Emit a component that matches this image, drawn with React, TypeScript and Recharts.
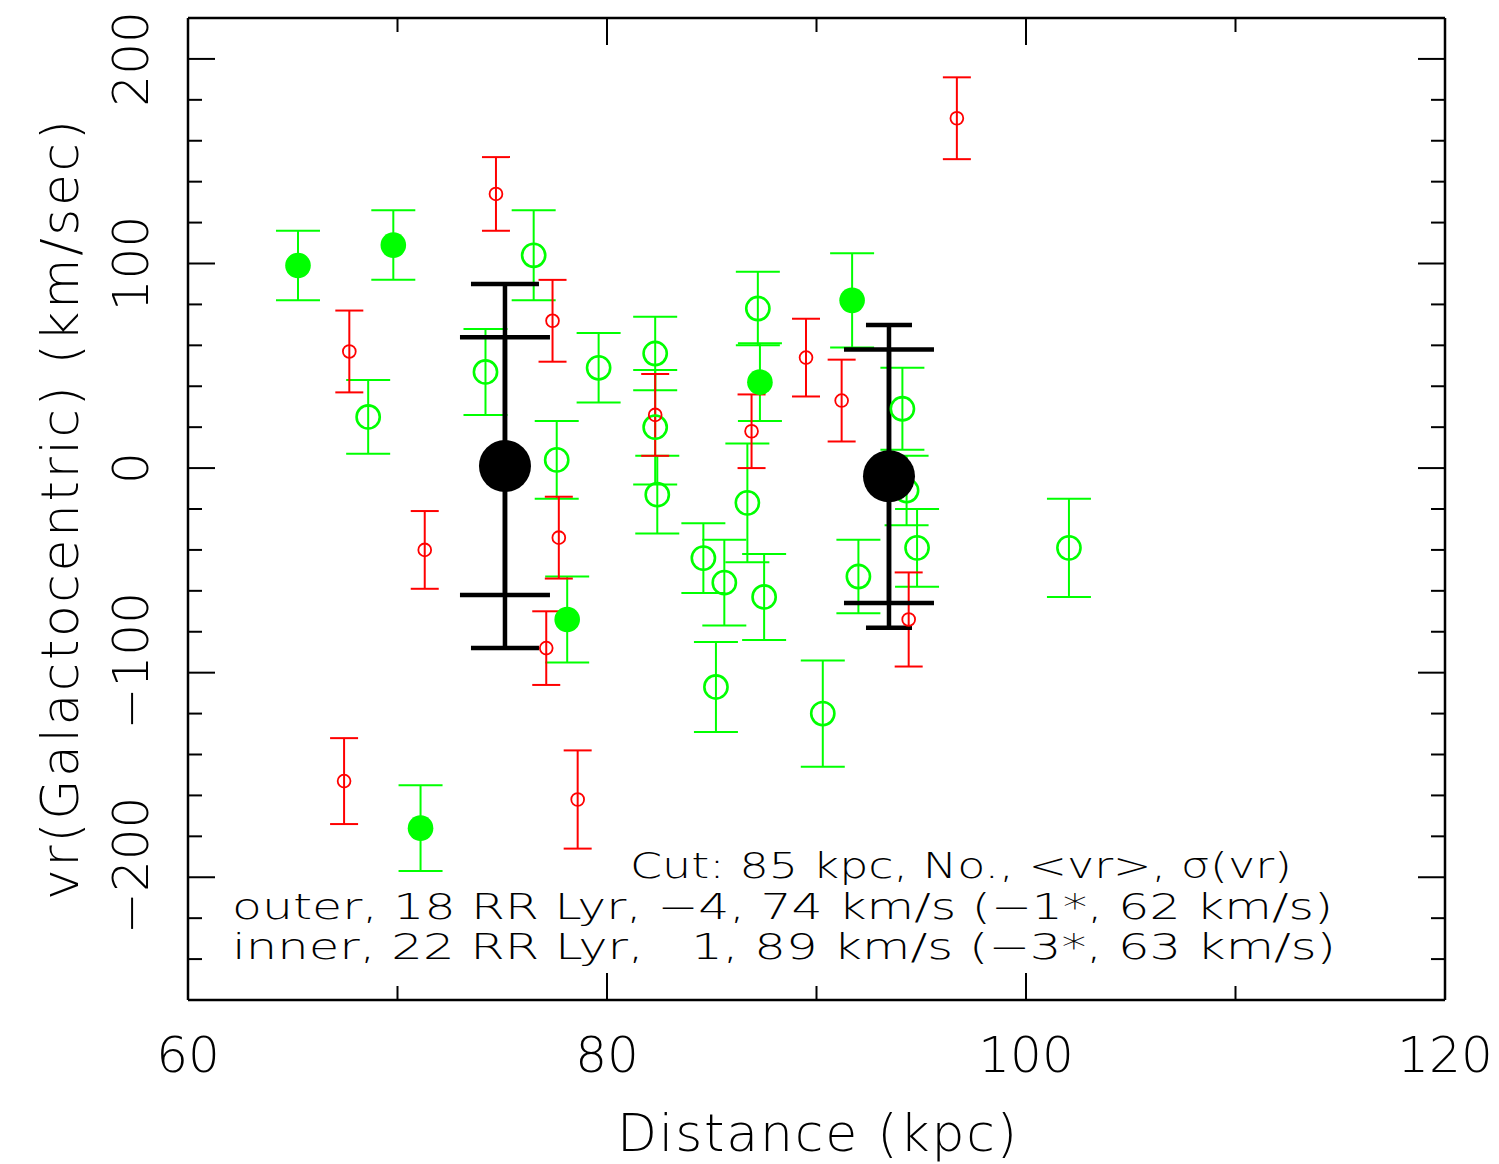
import React from 'react';
import { ScatterChart, Scatter, XAxis, YAxis, ErrorBar } from 'recharts';

// ---- data (distance kpc, vr km/s, error km/s) ----
const greenFilledX = [65.25, 69.8, 78.1, 71.1, 87.3, 91.7];
const greenFilledV = [99, 109, -74, -176, 42, 82];
const greenFilledErr = [17, 17, 21, 21, 19, 23];

const greenOpenX = [68.6, 74.2, 76.5, 77.6, 79.6, 82.3, 82.3, 82.4, 84.6, 85.6, 86.7, 87.2, 87.5, 85.2, 90.3, 92.0, 94.1, 94.3, 94.8, 102.05];
const greenOpenV = [25, 47, 104, 4, 49, 56, 20, -13, -44, -56, -17, 78, -63, -107, -120, -53, 29, -11, -39, -39];
const greenOpenErr = [18, 21, 22, 19, 17, 18, 28, 19, 17, 21, 29, 18, 21, 22, 26, 18, 20, 17, 19, 24];

const redX = [74.7, 67.7, 77.4, 71.3, 77.7, 77.1, 67.45, 78.6, 82.3, 86.9, 89.5, 91.2, 94.4, 96.7];
const redV = [134, 57, 72, -40, -34, -88, -153, -162, 26, 18, 54, 33, -74, 171];
const redErr = [18, 20, 20, 19, 20, 18, 21, 24, 20, 18, 19, 20, 23, 20];

const innerMean = [{ x: 75.13, v: 1, sigma: 89, clipped: 63 }];
const outerMean = [{ x: 93.46, v: -4, sigma: 74, clipped: 62 }];

const xTicks = [60, 70, 80, 90, 100, 110, 120];
const xMajor = [60, 80, 100, 120];
const yTicks = [-240, -220, -200, -180, -160, -140, -120, -100, -80, -60, -40, -20, 0, 20, 40, 60, 80, 100, 120, 140, 160, 180, 200];
const yMajor = [-200, -100, 0, 100, 200];

const annotation = [
  'Cut: 85 kpc, No., <vr>, \u03c3(vr)',
  'outer, 18 RR Lyr, \u22124, 74 km/s (\u22121*, 62 km/s)',
  'inner, 22 RR Lyr,   1, 89 km/s (\u22123*, 63 km/s)',
];

const build = (xs: number[], vs: number[], es: number[]) =>
  xs.map((x, i) => ({ x, v: vs[i], err: es[i] }));

const greenFilled = build(greenFilledX, greenFilledV, greenFilledErr);
const greenOpen = build(greenOpenX, greenOpenV, greenOpenErr);
const red = build(redX, redV, redErr);

const GREEN = '#00ff00';
const RED = '#ff0000';
const FONT = "'DejaVu Sans', sans-serif";
const MAJ = 27;
const MIN = 14;
const fmt = (v: number) => (v < 0 ? '\u2212' + Math.abs(v) : String(v));

const BottomTick = (p: any) => {
  const v = p.payload.value;
  const major = xMajor.includes(v);
  return (
    <g>
      <line x1={p.x} x2={p.x} y1={p.y} y2={p.y - (major ? MAJ : MIN)} stroke="#000" strokeWidth={2} />
      {major && (
        <text x={p.x} y={p.y + 72} textAnchor="middle" fontFamily={FONT} fontWeight={200} fontSize={50} fill="#000">
          {fmt(v)}
        </text>
      )}
    </g>
  );
};
const TopTick = (p: any) => {
  const major = xMajor.includes(p.payload.value);
  return <line x1={p.x} x2={p.x} y1={p.y} y2={p.y + (major ? MAJ : MIN)} stroke="#000" strokeWidth={2} />;
};
const LeftTick = (p: any) => {
  const v = p.payload.value;
  const major = yMajor.includes(v);
  const tx = p.x - 57;
  const ty = p.y - (v < 0 ? 12 : 0);
  return (
    <g>
      <line x1={p.x} x2={p.x + (major ? MAJ : MIN)} y1={p.y} y2={p.y} stroke="#000" strokeWidth={2} />
      {major && (
        <text x={tx} y={ty} transform={`rotate(-90 ${tx} ${ty})`} textAnchor="middle" dominantBaseline="central" fontFamily={FONT} fontWeight={200} fontSize={50} fill="#000">
          {fmt(v)}
        </text>
      )}
    </g>
  );
};
const RightTick = (p: any) => {
  const major = yMajor.includes(p.payload.value);
  return <line x1={p.x} x2={p.x - (major ? MAJ : MIN)} y1={p.y} y2={p.y} stroke="#000" strokeWidth={2} />;
};

const openGreen = (p: any) => <circle cx={p.cx} cy={p.cy} r={11.6} fill="none" stroke={GREEN} strokeWidth={2.6} />;
const filledGreen = (p: any) => <circle cx={p.cx} cy={p.cy} r={12.8} fill={GREEN} stroke="none" />;
const openRed = (p: any) => <circle cx={p.cx} cy={p.cy} r={6.4} fill="none" stroke={RED} strokeWidth={1.8} />;
const bigBlack = (p: any) => <circle cx={p.cx} cy={p.cy} r={26} fill="#000" stroke="none" />;

export default function App() {
  const axisLine = { stroke: '#000', strokeWidth: 2.5 };
  return (
    <div style={{ position: 'absolute', left: 0, top: 0, width: 1499, height: 1164, background: '#fff' }}>
      <ScatterChart width={1499} height={1164} margin={{ top: 8, right: 44, bottom: 0, left: 0 }}>
        <XAxis
          xAxisId={0}
          type="number"
          dataKey="x"
          domain={[60, 120]}
          allowDataOverflow
          ticks={xTicks}
          interval={0}
          height={164}
          tickSize={0}
          tickMargin={0}
          axisLine={axisLine}
          tickLine={false}
          tick={<BottomTick />}
        />
        <XAxis
          xAxisId="top"
          orientation="top"
          type="number"
          dataKey="x"
          domain={[60, 120]}
          allowDataOverflow
          ticks={xTicks}
          interval={0}
          height={10}
          tickSize={0}
          tickMargin={0}
          axisLine={axisLine}
          tickLine={false}
          tick={<TopTick />}
        />
        <YAxis
          yAxisId={0}
          type="number"
          dataKey="v"
          domain={[-260, 220]}
          allowDataOverflow
          ticks={yTicks}
          interval={0}
          width={188}
          tickSize={0}
          tickMargin={0}
          axisLine={axisLine}
          tickLine={false}
          tick={<LeftTick />}
        />
        <YAxis
          yAxisId="right"
          orientation="right"
          type="number"
          dataKey="v"
          domain={[-260, 220]}
          allowDataOverflow
          ticks={yTicks}
          interval={0}
          width={10}
          tickSize={0}
          tickMargin={0}
          axisLine={axisLine}
          tickLine={false}
          tick={<RightTick />}
        />
        <Scatter data={greenOpen} dataKey="v" shape={openGreen} isAnimationActive={false}>
          <ErrorBar dataKey="err" direction="y" width={22} stroke={GREEN} strokeWidth={2} isAnimationActive={false} />
        </Scatter>
        <Scatter data={greenFilled} dataKey="v" shape={filledGreen} isAnimationActive={false}>
          <ErrorBar dataKey="err" direction="y" width={22} stroke={GREEN} strokeWidth={2} isAnimationActive={false} />
        </Scatter>
        <Scatter data={red} dataKey="v" shape={openRed} isAnimationActive={false}>
          <ErrorBar dataKey="err" direction="y" width={14} stroke={RED} strokeWidth={2} isAnimationActive={false} />
        </Scatter>
        <Scatter data={innerMean} dataKey="v" shape={bigBlack} isAnimationActive={false}>
          <ErrorBar dataKey="sigma" direction="y" width={34} stroke="#000" strokeWidth={4.5} isAnimationActive={false} />
          <ErrorBar dataKey="clipped" direction="y" width={45} stroke="#000" strokeWidth={4.5} isAnimationActive={false} />
        </Scatter>
        <Scatter data={outerMean} dataKey="v" shape={bigBlack} isAnimationActive={false}>
          <ErrorBar dataKey="sigma" direction="y" width={23} stroke="#000" strokeWidth={4.5} isAnimationActive={false} />
          <ErrorBar dataKey="clipped" direction="y" width={45} stroke="#000" strokeWidth={4.5} isAnimationActive={false} />
        </Scatter>
      </ScatterChart>
      <svg width={1499} height={1164} style={{ position: 'absolute', left: 0, top: 0, pointerEvents: 'none' }}>
        <g fontFamily={FONT} fontWeight={200} fill="#000">
          <text x={630} y={878} fontSize={35} textLength={662} lengthAdjust="spacingAndGlyphs" style={{ whiteSpace: 'pre' }}>{annotation[0]}</text>
          <text x={232} y={919} fontSize={35} textLength={1101} lengthAdjust="spacingAndGlyphs" style={{ whiteSpace: 'pre' }}>{annotation[1]}</text>
          <text x={232} y={959} fontSize={35} textLength={1104} lengthAdjust="spacingAndGlyphs" style={{ whiteSpace: 'pre' }}>{annotation[2]}</text>
          <text x={817} y={1151} fontSize={52} textAnchor="middle" textLength={400} lengthAdjust="spacing">Distance (kpc)</text>
          <text x={78} y={510} fontSize={52} textAnchor="middle" textLength={780} lengthAdjust="spacing" transform="rotate(-90 78 510)">vr(Galactocentric) (km/sec)</text>
        </g>
      </svg>
    </div>
  );
}
